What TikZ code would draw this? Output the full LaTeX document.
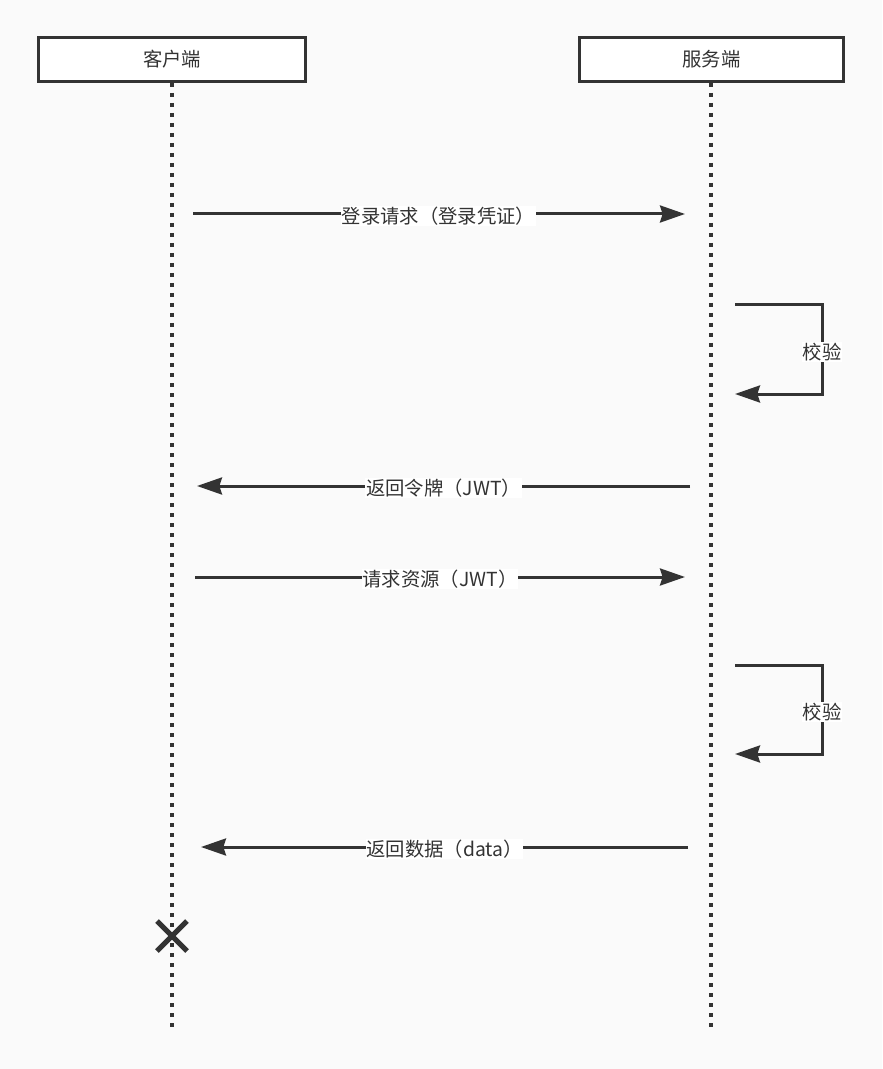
\documentclass[tikz,border=0pt]{standalone}
\usepackage{fontspec}
\setmainfont{Noto Sans CJK SC}
\usetikzlibrary{arrows.meta,calc}
\definecolor{bgc}{HTML}{FAFAFA}
\definecolor{ink}{HTML}{333333}
\begin{document}
\begin{tikzpicture}[x=0.75pt,y=-0.75pt,
  actor/.style={draw=ink,line width=2.25pt,fill=white,minimum height=33pt,inner sep=0pt,text=ink,font=\fontsize{14.5pt}{17pt}\selectfont},
  lifeline/.style={draw=ink,line width=2.4pt,dash pattern=on 3pt off 4.5pt},
  msg/.style={draw=ink,line width=2.25pt,-{Stealth[length=18.75pt,width=12.75pt,inset=2pt]}},
  lbl/.style={fill=white,inner sep=0.5pt,text=ink,font=\fontsize{14.5pt}{17pt}\selectfont},
  xmark/.style={draw=ink,line width=3.75pt}]
\useasboundingbox[fill=bgc] (0,0) rectangle (882,1069);
% lifelines
\coordinate (cb) at (172,1033);
\coordinate (sb) at (711,1033);
\node[actor,minimum width=200.25pt] (client) at (172,59.5) {客户端};
\node[actor,minimum width=198pt] (server) at (711.5,59.5) {服务端};
\draw[lifeline] (client.south -| cb) -- (cb);
\draw[lifeline] (server.south -| sb) -- (sb);
% message 1
\coordinate (m1a) at (193,214);
\coordinate (m1b) at (685,214);
\draw[msg] (m1a) -- (m1b);
\node[lbl] (l1) at (438.5,216) {登录请求（登录凭证）};
% self check 1
\coordinate (s1a) at (735,305);
\coordinate (s1c) at (822,305);
\coordinate (s1d) at (822,394);
\coordinate (s1b) at (735,394);
\draw[msg] (s1a) -- (s1c) -- (s1d) -- (s1b);
\node[lbl] (l2) at (822,352) {校验};
% message 2
\coordinate (m2a) at (690,486);
\coordinate (m2b) at (197,486);
\draw[msg] (m2a) -- (m2b);
\node[lbl] (l3) at (443.5,488) {返回令牌（JWT）};
% message 3
\coordinate (m3a) at (195,577);
\coordinate (m3b) at (685,577);
\draw[msg] (m3a) -- (m3b);
\node[lbl] (l4) at (440,579) {请求资源（JWT）};
% self check 2
\coordinate (s2a) at (735,665);
\coordinate (s2c) at (822,665);
\coordinate (s2d) at (822,754);
\coordinate (s2b) at (735,754);
\draw[msg] (s2a) -- (s2c) -- (s2d) -- (s2b);
\node[lbl] (l5) at (822,712) {校验};
% message 4
\coordinate (m4a) at (688,847);
\coordinate (m4b) at (201,847);
\draw[msg] (m4a) -- (m4b);
\node[lbl] (l6) at (444.5,849) {返回数据（data）};
% destruction
\coordinate (xc) at (172,936);
\draw[xmark] ($(xc)+(-15,-15)$) -- ($(xc)+(15,15)$);
\draw[xmark] ($(xc)+(-15,15)$) -- ($(xc)+(15,-15)$);
\end{tikzpicture}
\end{document}
